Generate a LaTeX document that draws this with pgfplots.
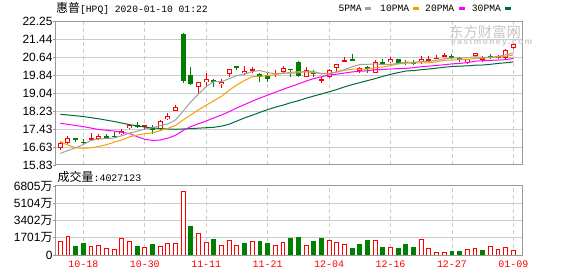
\documentclass[border=0pt]{standalone}
\usepackage{pgfplots}
\pgfplotsset{compat=1.18}
\usepackage{pgfplotstable}
\usepackage{fontspec}
\setmainfont{Liberation Sans}
\newfontfamily\cjk{Noto Sans CJK SC}
\newfontfamily\mono{Liberation Mono}
\definecolor{upred}{HTML}{FF0000}
\definecolor{dngreen}{HTML}{008000}
\definecolor{ma5}{HTML}{A0A0A0}
\definecolor{ma10}{HTML}{F5A000}
\definecolor{ma20}{HTML}{FF00FF}
\definecolor{ma30}{HTML}{006B33}
\definecolor{framegray}{HTML}{999999}
\definecolor{gridgray}{HTML}{CCCCCC}

% up candles: close > open
\pgfplotstableread{
i o h l c
0 16.57 16.85 16.48 16.80
1 16.80 17.14 16.78 17.03
4 16.98 17.25 16.97 17.03
5 16.99 17.20 16.95 17.14
8 17.22 17.44 17.17 17.35
9 17.47 17.65 17.44 17.61
11 17.52 17.61 17.40 17.60
13 17.44 17.85 17.40 17.79
14 17.88 18.16 17.85 18.02
15 18.26 18.50 18.23 18.44
18 19.34 19.57 19.04 19.56
19 19.55 19.97 19.34 19.67
21 19.46 19.67 19.29 19.56
22 19.92 20.15 19.79 20.14
24 19.94 20.26 19.86 20.04
25 20.08 20.23 19.93 20.13
28 19.90 20.08 19.76 19.97
29 20.00 20.26 19.94 20.19
32 19.79 20.20 19.76 20.09
34 19.62 19.79 19.49 19.66
35 19.76 20.13 19.71 20.09
36 20.19 20.35 20.01 20.34
37 20.46 20.65 20.45 20.53
39 20.06 20.23 19.97 20.19
41 19.97 20.53 19.96 20.44
43 20.43 20.68 20.39 20.56
47 20.43 20.71 20.35 20.58
48 20.53 20.71 20.43 20.58
49 20.58 20.76 20.57 20.64
50 20.68 20.85 20.67 20.76
53 20.43 20.59 20.35 20.58
54 20.73 20.87 20.68 20.86
55 20.58 20.71 20.46 20.61
57 20.64 20.77 20.59 20.71
58 20.61 21.01 20.58 20.98
59 21.07 21.31 21.04 21.25
}\upcandles

% down candles: close < open
\pgfplotstableread{
i o h l c
2 17.02 17.03 16.86 16.96
3 16.87 16.99 16.78 16.83
6 17.11 17.20 16.99 17.07
7 17.13 17.30 17.03 17.09
10 17.60 17.74 17.47 17.55
12 17.55 17.62 17.20 17.40
16 21.70 21.76 19.52 19.61
17 19.86 20.23 19.41 19.44
20 19.65 19.68 19.34 19.56
23 20.26 20.26 20.08 20.21
26 19.89 19.97 19.56 19.77
27 19.85 19.97 19.56 19.70
30 20.13 20.13 19.76 20.09
31 20.46 20.50 19.76 19.83
33 19.97 20.09 19.79 19.90
38 20.55 20.80 20.51 20.52
40 20.22 20.26 19.97 20.12
42 20.42 20.56 20.37 20.39
44 20.58 20.58 20.40 20.41
45 20.45 20.53 20.31 20.40
46 20.44 20.53 20.31 20.40
51 20.73 20.79 20.56 20.61
52 20.62 20.67 20.46 20.58
56 20.71 20.80 20.56 20.67
}\dncandles

\pgfplotstableread{
i v
0 16.35
1 16.48
2 16.60
3 16.75
4 16.93
5 17.00
6 17.01
7 17.04
8 17.14
9 17.26
10 17.34
11 17.44
12 17.50
13 17.59
14 17.67
15 17.85
16 18.25
17 18.66
18 19.01
19 19.34
20 19.57
21 19.56
22 19.70
23 19.83
24 19.90
25 20.02
26 20.06
27 19.97
28 19.92
29 19.95
30 19.94
31 19.96
32 20.03
33 20.02
34 19.91
35 19.91
36 20.01
37 20.10
38 20.23
39 20.33
40 20.34
41 20.36
42 20.33
43 20.34
44 20.38
45 20.44
46 20.43
47 20.47
48 20.47
49 20.52
50 20.59
51 20.63
52 20.63
53 20.63
54 20.68
55 20.65
56 20.66
57 20.69
58 20.77
59 20.84
}\mafive

\pgfplotstableread{
i v
0 16.88
1 16.72
2 16.60
3 16.58
4 16.60
5 16.66
6 16.74
7 16.85
8 16.95
9 17.09
10 17.17
11 17.23
12 17.27
13 17.37
14 17.47
15 17.60
16 17.85
17 18.08
18 18.30
19 18.51
20 18.71
21 18.91
22 19.18
23 19.42
24 19.62
25 19.79
26 19.81
27 19.83
28 19.88
29 19.93
30 19.98
31 20.01
32 20.00
33 19.97
34 19.93
35 19.93
36 19.99
37 20.07
38 20.12
39 20.12
40 20.13
41 20.19
42 20.22
43 20.28
44 20.36
45 20.39
46 20.40
47 20.40
48 20.41
49 20.45
50 20.52
51 20.53
52 20.55
53 20.55
54 20.60
55 20.62
56 20.65
57 20.66
58 20.70
59 20.76
}\maten

\pgfplotstableread{
i v
0 17.70
3 17.55
5 17.42
7 17.35
9 17.24
10 17.10
11 16.98
12 16.93
13 16.95
14 17.03
15 17.16
16 17.38
17 17.55
18 17.68
19 17.80
20 17.94
21 18.07
22 18.22
23 18.39
24 18.54
25 18.69
26 18.83
27 18.96
28 19.09
29 19.22
30 19.34
31 19.46
32 19.59
33 19.70
34 19.78
35 19.86
36 19.90
37 19.95
38 20.00
39 20.03
40 20.05
41 20.10
42 20.11
43 20.13
44 20.15
45 20.16
46 20.19
47 20.23
48 20.26
49 20.29
50 20.32
51 20.36
52 20.38
53 20.42
54 20.48
55 20.50
56 20.52
57 20.53
58 20.55
59 20.61
}\matwenty

\pgfplotstableread{
i v
0 18.10
1 18.07
3 18.00
5 17.90
7 17.78
9 17.64
11 17.53
13 17.46
15 17.43
17 17.46
19 17.50
20 17.52
21 17.57
22 17.66
23 17.80
24 17.94
25 18.06
26 18.19
27 18.31
28 18.42
29 18.51
30 18.62
31 18.71
32 18.82
33 18.92
34 19.01
35 19.11
36 19.21
37 19.33
38 19.43
39 19.52
40 19.61
41 19.70
42 19.80
43 19.89
44 19.97
45 20.04
46 20.06
47 20.10
48 20.13
49 20.17
50 20.21
51 20.24
52 20.26
53 20.27
54 20.30
55 20.31
56 20.34
57 20.38
58 20.41
59 20.45
}\mathirty

% volume in units of 10^4 shares
\pgfplotstableread{
i v
0 1308
1 1831
4 850
5 948
6 654
7 556
8 1635
9 1373
11 752
13 850
14 1144
15 1144
16 6246
18 2125
19 1275
21 948
22 1439
23 948
25 1341
28 948
29 1243
32 948
35 1472
36 1243
37 1046
41 1472
43 752
47 1537
48 654
49 262
50 262
53 589
54 654
56 850
57 589
58 785
59 403
}\volup

\pgfplotstableread{
i v
2 883
3 1177
10 883
12 1079
17 2845
20 1570
24 1177
26 1373
27 1177
30 1635
31 1766
33 1373
34 1635
38 687
39 1079
40 1472
42 752
44 687
45 1079
46 785
51 392
52 392
55 490
}\voldn

\pgfplotsset{
  kstyle/.style={
    scale only axis, anchor=south west, width=466.3bp,
    xmin=-0.6, xmax=60.12,
    axis line style={framegray, line width=1bp},
    xtick={3,11,19,27,35,43,51,59},
    xmajorgrids, ymajorgrids,
    x grid style={gridgray, line width=0.9bp, dash pattern=on 4bp off 3bp},
    y grid style={gridgray, line width=1bp},
    tick align=outside,
    ytick pos=left,
    xtick style={draw=none},
    ytick style={framegray, line width=0.8bp},
    major tick length=2.5bp,
    /pgf/number format/assume math mode=true,
    tick label style={font=\fontsize{12}{12}\selectfont, text=black},
    yticklabel style={inner sep=0.5bp, anchor=east},
  },
  wick/.style={draw=none, mark=none, forget plot,
    error bars/.cd, y dir=both, y explicit, error mark=none,
    error bar style={draw=#1, line width=1bp, line cap=butt, solid}},
  body/.style 2 args={draw=none, mark=none, forget plot,
    error bars/.cd, y dir=both, y explicit, error mark=none,
    error bar style={draw=#1, line width=#2, line cap=butt, solid}},
  maline/.style={color=#1, line width=1bp, mark=none, sharp plot, forget plot},
}

\begin{document}
\begin{tikzpicture}
\useasboundingbox (0,0) rectangle (578bp,276bp);

% ---------------- price panel ----------------
\begin{axis}[kstyle, at={(55.7bp,111bp)}, height=143.3bp,
  ymin=15.83, ymax=22.25,
  ytick={15.83,16.63,17.43,18.23,19.04,19.84,20.64,21.44,22.25},
  yticklabels={15.83,16.63,17.43,18.23,19.04,19.84,20.64,21.44,22.25},
  xticklabels={},
]
% wicks
\addplot[wick=upred] table[x=i, y expr={(\thisrow{h}+\thisrow{l})/2}, y error expr={(\thisrow{h}-\thisrow{l})/2}] {\upcandles};
\addplot[wick=dngreen] table[x=i, y expr={(\thisrow{h}+\thisrow{l})/2}, y error expr={(\thisrow{h}-\thisrow{l})/2}] {\dncandles};
% bodies
\addplot[body={upred}{5bp}] table[x=i, y expr={(\thisrow{o}+\thisrow{c})/2}, y error expr={max((\thisrow{c}-\thisrow{o})/2,0.022)}] {\upcandles};
\addplot[body={white}{3bp}] table[x=i, y expr={(\thisrow{o}+\thisrow{c})/2}, y error expr={max((\thisrow{c}-\thisrow{o})/2-0.0448,0)}] {\upcandles};
\addplot[body={dngreen}{5bp}] table[x=i, y expr={(\thisrow{o}+\thisrow{c})/2}, y error expr={max((\thisrow{o}-\thisrow{c})/2,0.022)}] {\dncandles};
% moving averages
\addplot[maline=ma30] table[x=i, y=v] {\mathirty};
\addplot[maline=ma20] table[x=i, y=v] {\matwenty};
\addplot[maline=ma10] table[x=i, y=v] {\maten};
\addplot[maline=ma5] table[x=i, y=v] {\mafive};
\end{axis}

% ---------------- volume panel ----------------
\begin{axis}[kstyle, at={(55.7bp,21bp)}, height=69bp,
  ymin=0, ymax=6805,
  ytick={0,1701,3402,5104,6805},
  yticklabels={0,{1701{\cjk 万}},{3402{\cjk 万}},{5104{\cjk 万}},{6805{\cjk 万}}},
  xticklabels={10-18,10-30,11-11,11-21,12-04,12-16,12-27,01-09},
  xticklabel style={text=upred, font=\mono\fontsize{10}{10}\selectfont, inner sep=0pt, anchor=north, yshift=-3.5bp},
]
\addplot[ybar, bar width=3.9bp, bar shift=0pt, draw=upred, fill=white, line width=1bp, forget plot] table[x=i, y=v] {\volup};
\addplot[ybar, bar width=3.9bp, bar shift=0pt, draw=dngreen, fill=dngreen, line width=1bp, forget plot] table[x=i, y=v] {\voldn};
\end{axis}

% ---------------- texts ----------------
\node[anchor=west, inner sep=0pt] at (56bp,268bp) {{\cjk\fontsize{12}{12}\selectfont 惠普}{\mono\fontsize{9.7}{10}\selectfont[HPQ] 2020-01-10 01:22}};
\node[anchor=west, inner sep=0pt] at (57.5bp,99bp) {{\cjk\fontsize{12}{12}\selectfont 成交量}{\mono\fontsize{10}{10}\selectfont:4027123}};

\node[anchor=west, inner sep=0pt] at (338.3bp,268bp) {\mono\fontsize{9.7}{10}\selectfont 5PMA};
\node[anchor=west, inner sep=0pt] at (365bp,267bp) {\textcolor{ma5}{\rule{5.5bp}{3bp}}};
\node[anchor=west, inner sep=0pt] at (380bp,268bp) {\mono\fontsize{9.7}{10}\selectfont 10PMA};
\node[anchor=west, inner sep=0pt] at (413bp,267bp) {\textcolor{ma10}{\rule{5.5bp}{3bp}}};
\node[anchor=west, inner sep=0pt] at (425bp,268bp) {\mono\fontsize{9.7}{10}\selectfont 20PMA};
\node[anchor=west, inner sep=0pt] at (459bp,267bp) {\textcolor{ma20}{\rule{5.5bp}{3bp}}};
\node[anchor=west, inner sep=0pt] at (471.7bp,268bp) {\mono\fontsize{9.7}{10}\selectfont 30PMA};
\node[anchor=west, inner sep=0pt] at (505bp,267bp) {\textcolor{ma30}{\rule{5.5bp}{3bp}}};

% watermark
\node[anchor=west, inner sep=0pt, text=black!22] at (449bp,244bp) {\cjk\fontsize{14.4}{15}\selectfont 东方财富网};
\node[anchor=west, inner sep=0pt, text=black!20] at (451bp,233.5bp) {\bfseries\fontsize{8.5}{9}\selectfont e\,a\,s\,t\,m\,o\,n\,e\,y\,.\,c\,o\,m};
\end{tikzpicture}
\end{document}
